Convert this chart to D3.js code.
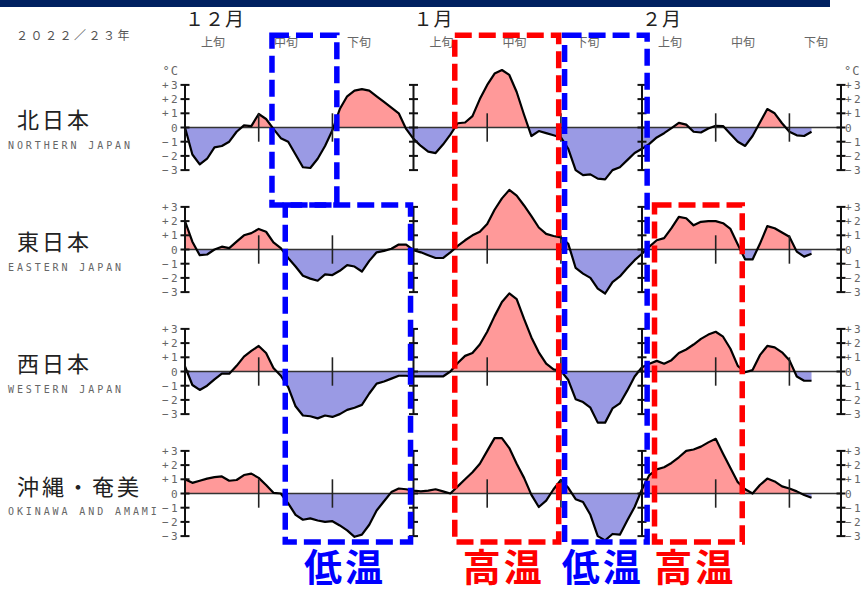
<!DOCTYPE html>
<html><head><meta charset="utf-8">
<script src="https://cdn.jsdelivr.net/npm/d3@7"></script>
<style>body{margin:0;background:#fff;} svg{display:block}</style>
</head><body><svg id="c" width="865" height="593"></svg>
<script>
// ---------- data ----------
const yearLabel = "２０２２／２３年";
const regionsJa = ["北日本", "東日本", "西日本", "沖縄・奄美"];
const regionsEn = ["NORTHERN JAPAN", "EASTERN JAPAN", "WESTERN JAPAN", "OKINAWA AND AMAMI"];
const months = ["１２月", "１月", "２月"];
const monthStartDays = [0, 31, 62];   // day index from Dec 1
const lastDay = 89;
const decades = ["上旬", "中旬", "下旬"];
const decadeTickDays = [10, 20, 41, 51, 72, 82];
const yTicks = [3, 2, 1, 0, -1, -2, -3];
const yTickLabels = ["+3", "+2", "+1", "0", "−1", "−2", "−3"];

// daily temperature anomaly (°C, 5-day running mean) from Dec 1
const north = [0.0,-1.9,-2.6,-2.2,-1.4,-1.3,-1.0,-0.3,0.15,0.1,
  0.95,0.6,-0.1,-0.75,-1.0,-1.9,-2.8,-2.85,-2.2,-1.3,
  -0.2,1.3,2.2,2.6,2.7,2.6,2.2,1.8,1.4,1.0,
  -0.1,-0.8,-1.3,-1.7,-1.8,-1.2,-0.5,0.3,0.35,0.8,
  2.0,3.0,3.8,4.05,3.7,2.5,0.9,-0.6,-0.25,-0.4,
  -0.55,-0.7,-1.5,-3.0,-3.35,-3.3,-3.6,-3.65,-3.0,-2.8,
  -2.3,-1.8,-1.5,-1.15,-0.7,-0.4,-0.05,0.33,0.2,-0.3,
  -0.35,-0.07,0.12,0.1,-0.45,-1.0,-1.3,-0.6,0.35,1.3,
  1.0,0.3,-0.3,-0.55,-0.6,-0.3];
const east = [2.0,0.55,-0.4,-0.35,0.0,0.2,0.1,0.55,1.0,1.15,
  1.45,1.25,0.5,0.1,-0.6,-1.2,-1.85,-2.05,-2.2,-1.75,
  -1.8,-1.5,-1.1,-1.2,-1.55,-0.8,-0.2,-0.1,0.05,0.35,
  0.35,-0.05,-0.2,-0.4,-0.6,-0.6,-0.2,0.25,0.65,1.0,
  1.25,1.8,2.8,3.6,4.2,3.8,3.1,2.35,1.55,1.1,
  0.95,0.85,0.4,-1.3,-1.7,-2.0,-2.75,-3.1,-2.3,-1.9,
  -1.3,-0.75,-0.3,0.2,0.65,0.8,1.5,2.3,2.2,1.7,
  1.95,2.0,2.0,1.85,1.45,0.35,-0.7,-0.7,0.4,1.65,
  1.5,1.2,0.9,-0.15,-0.5,-0.3];
const west = [0.35,-0.95,-1.3,-1.0,-0.55,-0.15,-0.15,0.4,1.05,1.45,
  1.8,1.3,0.25,-0.3,-1.1,-2.45,-3.1,-3.15,-3.3,-3.1,
  -3.2,-3.0,-2.7,-2.55,-2.35,-1.55,-0.85,-0.7,-0.5,-0.3,
  -0.3,-0.35,-0.35,-0.35,-0.35,-0.35,0.0,0.6,1.1,1.3,
  1.9,2.8,3.9,4.9,5.5,5.1,3.7,2.4,1.35,0.55,
  0.15,0.05,-0.6,-1.95,-2.15,-2.55,-3.6,-3.6,-2.6,-2.25,
  -1.35,-0.35,0.3,0.55,0.75,0.55,0.8,1.3,1.55,1.9,
  2.3,2.6,2.8,2.45,1.6,0.4,-0.05,0.1,1.15,1.8,
  1.7,1.35,0.8,-0.35,-0.65,-0.65];
const okinawa = [1.0,0.75,0.9,1.05,1.15,1.2,0.9,0.95,1.3,1.4,
  1.1,0.6,0.05,0.0,-0.7,-1.5,-1.85,-1.75,-1.9,-2.0,
  -1.95,-2.25,-2.6,-3.05,-2.9,-2.2,-1.2,-0.55,0.1,0.35,
  0.3,0.2,0.15,0.2,0.3,0.15,0.0,0.5,1.0,1.5,
  2.1,3.0,3.9,3.9,3.2,2.1,1.1,-0.1,-0.95,-0.5,
  0.3,0.95,0.4,-0.4,-0.6,-1.5,-3.0,-3.3,-2.85,-2.9,
  -1.9,-0.95,0.3,1.3,1.7,1.85,2.15,2.55,3.0,3.1,
  3.3,3.6,3.85,2.8,1.8,0.8,0.3,0.0,0.6,1.05,
  0.85,0.5,0.35,0.15,-0.1,-0.3];
const series = [north, east, west, okinawa];

// highlighted periods: day range, top (panel, value), bottom (panel, value)
const boxKinds = ["cold", "cold", "warm", "cold", "warm"];
const boxDays = [[11.8, 20.6], [13.6, 30.6], [36.6, 50.7], [51.5, 62.7], [63.7, 75.6]];
const boxTop = [[0, 6.5], [1, 3.13], [0, 6.5], [0, 6.5], [1, 3.13]];
const boxBottom = [[1, 3.13], [3, -3.42], [3, -3.42], [3, -3.42], [3, -3.42]];
const kindLabel = {cold: "低温", warm: "高温"};
const bottomLabelBoxes = [1, 2, 3, 4];

// ---------- drawing ----------
const svg = d3.select("#c");
const x = d3.scaleLinear().domain([0, lastDay]).range([185, 841]);
const panelZero = i => 127.5 + 122 * i;
const yFor = i => d3.scaleLinear().domain([-3, 3]).range([panelZero(i) + 42.6, panelZero(i) - 42.6]);
const kindColor = {cold: "#0000ff", warm: "#ff0000"};

svg.append("rect").attr("x", 0).attr("y", 0).attr("width", 830).attr("height", 7).attr("fill", "#002060");

svg.append("text").attr("x", 16).attr("y", 40).text(yearLabel)
  .attr("font-family", "Noto Sans CJK JP").attr("font-size", 12).attr("letter-spacing", 2.5).attr("fill", "#555");

months.forEach((m, k) => {
  svg.append("text").attr("x", x(monthStartDays[k])).attr("y", 26).text(m)
    .attr("font-family", "Noto Sans CJK JP").attr("font-size", 19).attr("letter-spacing", 1).attr("fill", "#222");
  decades.forEach((dl, j) => {
    svg.append("text").attr("x", x(monthStartDays[k] + 3.8 + 9.9 * j)).attr("y", 47).text(dl)
      .attr("text-anchor", "middle").attr("font-family", "Noto Sans CJK JP").attr("font-size", 12).attr("fill", "#666");
  });
});

const defs = svg.append("defs");
const mono = "DejaVu Sans Mono";

series.forEach((vals, i) => {
  const y = yFor(i);
  const z = y(0);
  const g = svg.append("g");
  defs.append("clipPath").attr("id", "pos" + i).append("rect")
    .attr("x", 0).attr("y", 0).attr("width", 865).attr("height", z);
  defs.append("clipPath").attr("id", "neg" + i).append("rect")
    .attr("x", 0).attr("y", z).attr("width", 865).attr("height", 593 - z);
  const area = d3.area().x((d, k) => x(k)).y0(z).y1(d => y(d));
  g.append("path").datum(vals).attr("d", area).attr("fill", "#ff9999").attr("clip-path", `url(#pos${i})`);
  g.append("path").datum(vals).attr("d", area).attr("fill", "#9a9ae4").attr("clip-path", `url(#neg${i})`);
  g.append("line").attr("x1", x(0)).attr("x2", x(lastDay)).attr("y1", z).attr("y2", z)
    .attr("stroke", "#333").attr("stroke-width", 1.6);
  g.append("path").datum(vals).attr("d", d3.line().x((d, k) => x(k)).y(d => y(d)))
    .attr("fill", "none").attr("stroke", "#000").attr("stroke-width", 2.2).attr("stroke-linejoin", "round");

  // vertical axes
  [0, 31, 62, lastDay].forEach(d => {
    g.append("line").attr("x1", x(d)).attr("x2", x(d)).attr("y1", y(3)).attr("y2", y(-3))
      .attr("stroke", "#111").attr("stroke-width", 2);
    yTicks.forEach(t => {
      g.append("line").attr("x1", x(d) - 4.5).attr("x2", x(d) + 4.5).attr("y1", y(t)).attr("y2", y(t))
        .attr("stroke", "#111").attr("stroke-width", 2);
    });
  });
  decadeTickDays.forEach(d => {
    g.append("line").attr("x1", x(d)).attr("x2", x(d)).attr("y1", y(1)).attr("y2", y(-1))
      .attr("stroke", "#222").attr("stroke-width", 1.6);
  });
  yTicks.forEach((t, k) => {
    g.append("text").attr("x", x(0) - 5).attr("y", y(t) + 4).text(yTickLabels[k])
      .attr("text-anchor", "end").attr("font-family", mono).attr("font-size", 11)
      .attr("letter-spacing", 2.4).attr("fill", "#666");
    g.append("text").attr("x", x(lastDay) + 4).attr("y", y(t) + 4).text(yTickLabels[k])
      .attr("font-family", mono).attr("font-size", 11).attr("letter-spacing", 2.4).attr("fill", "#666");
  });
  if (i === 0) {
    g.append("text").attr("x", x(0) - 6).attr("y", y(3) - 10).text("°C")
      .attr("text-anchor", "end").attr("font-family", mono).attr("font-size", 12).attr("letter-spacing", 1).attr("fill", "#666");
    g.append("text").attr("x", x(lastDay) + 3).attr("y", y(3) - 10).text("°C")
      .attr("font-family", mono).attr("font-size", 12).attr("letter-spacing", 1).attr("fill", "#666");
  }
  g.append("text").attr("x", 17).attr("y", z + (i === 3 ? 1.5 : 0)).text(regionsJa[i])
    .attr("font-family", "Noto Sans CJK JP").attr("font-size", 22).attr("letter-spacing", 3).attr("fill", "#222");
  g.append("text").attr("x", 8).attr("y", z + 21.5).text(regionsEn[i])
    .attr("font-family", mono).attr("font-size", 10).attr("letter-spacing", 2.9).attr("fill", "#666");
});

// highlight boxes
boxDays.forEach((bd, b) => {
  const yt = yFor(boxTop[b][0])(boxTop[b][1]);
  const yb = yFor(boxBottom[b][0])(boxBottom[b][1]);
  svg.append("rect").attr("x", x(bd[0])).attr("y", yt).attr("width", x(bd[1]) - x(bd[0])).attr("height", yb - yt)
    .attr("fill", "none").attr("stroke", kindColor[boxKinds[b]]).attr("stroke-width", 5.5)
    .attr("stroke-dasharray", "17,7");
});

bottomLabelBoxes.forEach(b => {
  const cx = (x(boxDays[b][0]) + x(boxDays[b][1])) / 2 - 3;
  svg.append("text").attr("x", cx).attr("y", 581).text(kindLabel[boxKinds[b]])
    .attr("text-anchor", "middle").attr("font-family", "Noto Sans CJK JP").attr("font-weight", 700)
    .attr("font-size", 38).attr("letter-spacing", 3).attr("fill", kindColor[boxKinds[b]]);
});
</script></body></html>
